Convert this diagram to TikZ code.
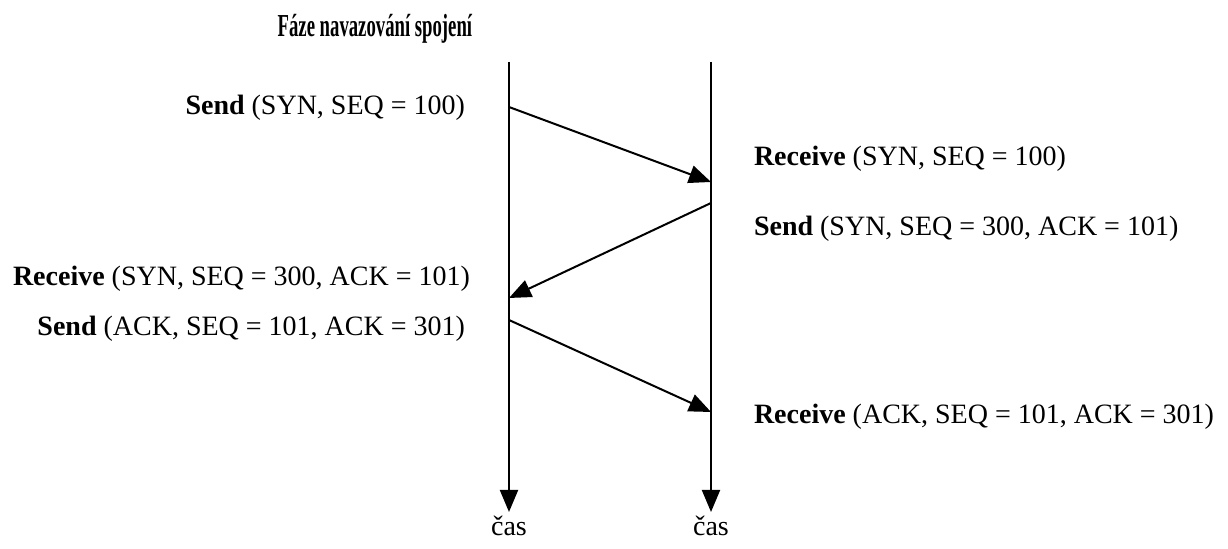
\documentclass[tikz,border=0pt]{standalone}
\usepackage{fontspec}
\setmainfont{Liberation Serif}
\usetikzlibrary{arrows.meta}
\newcommand{\msg}[2]{\textbf{#1} (#2)}

\begin{document}
\begin{tikzpicture}[x=0.5pt,y=-0.5pt,line width=1pt,
    every node/.style={inner sep=0pt,font=\fontsize{14}{16}\selectfont},
    tip/.style={-{Triangle[length=11pt,width=9pt]}}]
  \useasboundingbox (0,0) rectangle (1228,549);
  % time axes of both sides
  \coordinate (L0) at (509,62);
  \coordinate (L1) at (509,512);
  \coordinate (R0) at (711,62);
  \coordinate (R1) at (711,512);
  \draw[tip] (L0) -- (L1);
  \draw[tip] (R0) -- (R1);
  \node[anchor=base] (tl) at (509,536) {čas};
  \node[anchor=base] (tr) at (711,536) {čas};
  \node[anchor=base] (title) at (375,37)
    {\fontsize{16}{18}\selectfont\scalebox{0.585}[1]{\textbf{Fáze navazování spojení}}};
  % message ends on the axes
  \coordinate (s1) at (509,107);
  \coordinate (r1) at (711,182);
  \coordinate (s2) at (711,203);
  \coordinate (r2) at (509,298);
  \coordinate (s3) at (509,320);
  \coordinate (r3) at (711,412);
  \path[tip]
    (s1) edge (r1)
    (s2) edge (r2)
    (s3) edge (r3);
  % labels
  \node[anchor=base east] (ls1) at (466,115) {\msg{Send}{SYN, SEQ = 100}};
  \node[anchor=base west] (lr1) at (753,166) {\msg{Receive}{SYN, SEQ = 100}};
  \node[anchor=base west] (ls2) at (753,236) {\msg{Send}{SYN, SEQ = 300, ACK = 101}};
  \node[anchor=base west] (lr2) at (12,286) {\msg{Receive}{SYN, SEQ = 300, ACK = 101}};
  \node[anchor=base east] (ls3) at (466,336) {\msg{Send}{ACK, SEQ = 101, ACK = 301}};
  \node[anchor=base west] (lr3) at (753,424) {\msg{Receive}{ACK, SEQ = 101, ACK = 301}};
\end{tikzpicture}
\end{document}
